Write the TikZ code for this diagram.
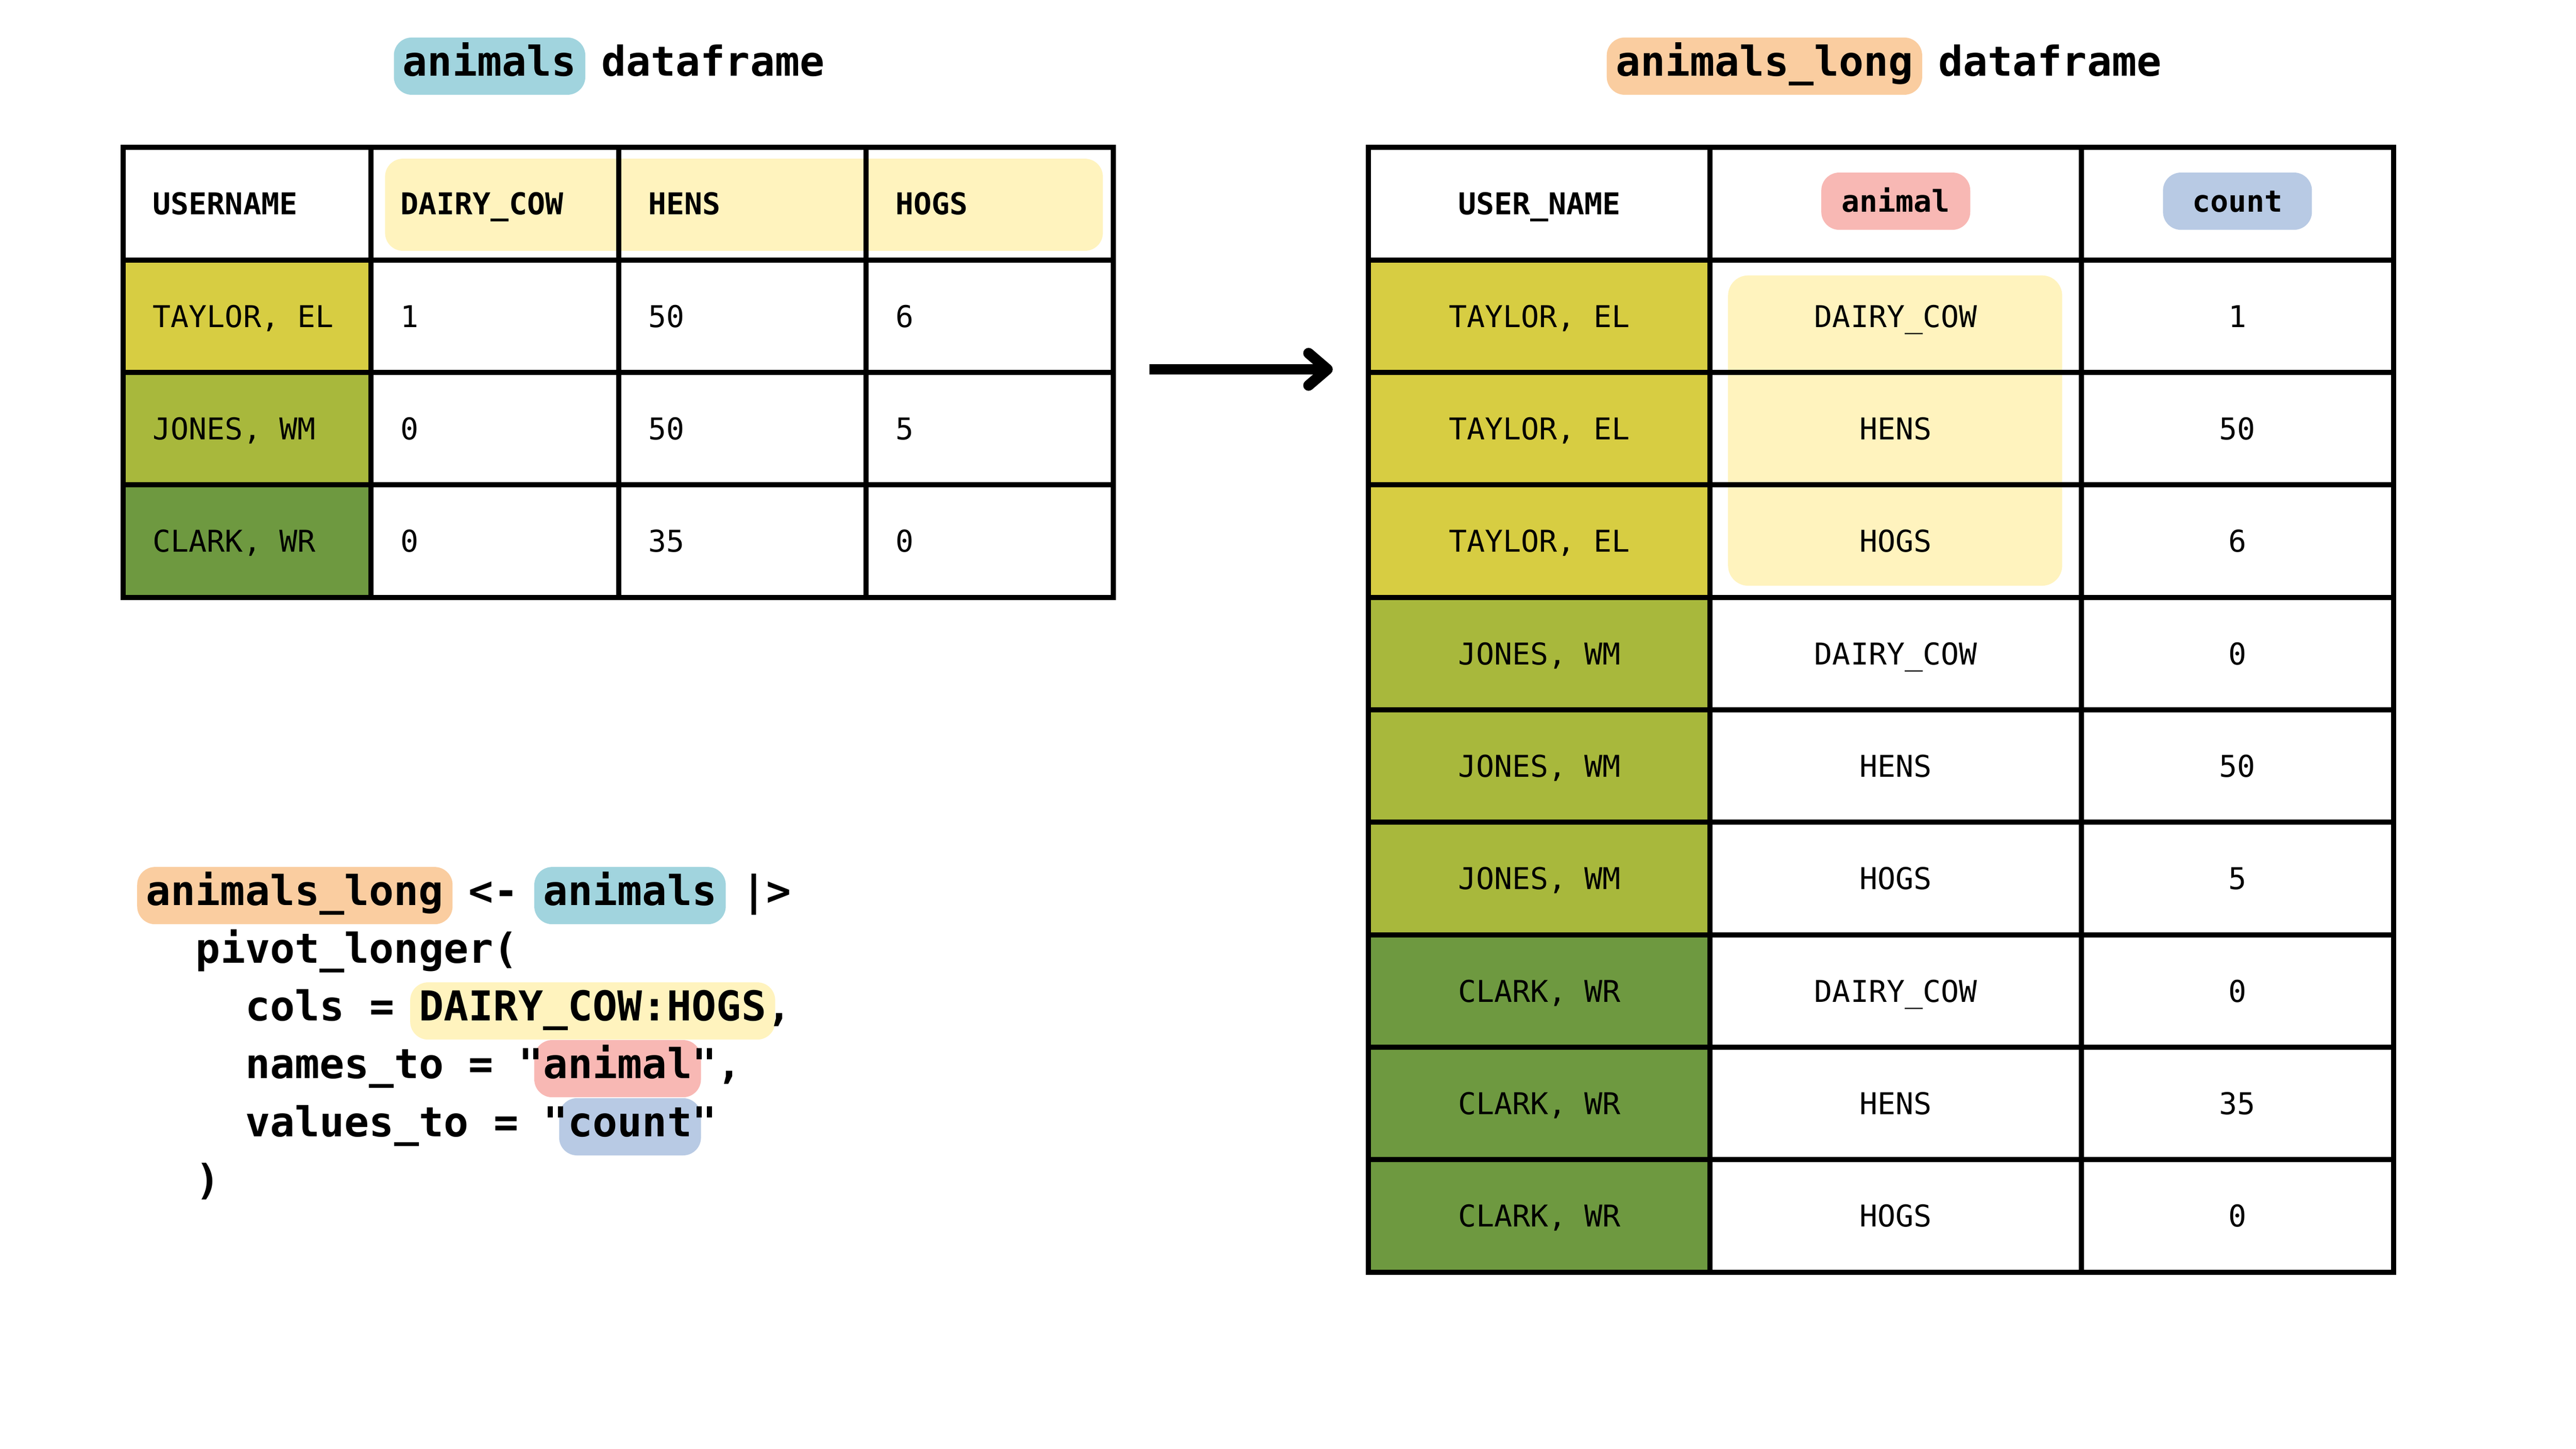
\documentclass[tikz,border=0pt]{standalone}
\usepackage{fontspec}
\setmonofont{DejaVu Sans Mono}
\usepackage{xcolor}
\usepackage{tikz}
\usetikzlibrary{arrows.meta}

\definecolor{hlblue}{HTML}{A1D4DE}
\definecolor{hlorange}{HTML}{FACDA0}
\definecolor{hlyellow}{HTML}{FFF3BE}
\definecolor{hlpink}{HTML}{F8B8B4}
\definecolor{hlgrey}{HTML}{B8CAE4}
\definecolor{taylor}{HTML}{D7CD42}
\definecolor{jones}{HTML}{A8B83C}
\definecolor{clark}{HTML}{6E9940}

\newcommand{\tabfont}{\ttfamily\fontsize{19.1pt}{23pt}\selectfont}
\newcommand{\codefont}{\ttfamily\bfseries\fontsize{26.2pt}{32pt}\selectfont}

\tikzset{
    grid line/.style={line width=0.115cm},
    cell text/.style={font=\tabfont, inner sep=0pt, text height=0.49cm, text depth=0pt},
    head text/.style={cell text, font=\tabfont\bfseries},
    head pill/.style={head text, fill=#1, rounded corners=0.4cm, minimum width=3.33cm, minimum height=1.28cm},
    code text/.style={font=\codefont, anchor=base west, inner xsep=0.2cm, inner ysep=0pt, text height=0.86cm, text depth=0.42cm},
    code pill/.style={code text, fill=#1, rounded corners=0.4cm},
    pivot arrow/.style={line width=0.24cm, -{Straight Barb[length=0.42cm,width=0.72cm,line cap=round,line join=round]}}
}

\begin{document}
\begin{tikzpicture}
                    \useasboundingbox (0,0) rectangle (57.6,32.4);
                    \fill[white] (0,0) rectangle (57.6,32.4);

                    \node[code pill=hlblue] (animalstitle) at (8.80,30.70) {animals};
                    \node[code text] (lefttitle) at (13.24,30.70) {dataframe};
                    \node[code pill=hlorange] (longtitle) at (35.92,30.70) {animals\_long};
                    \node[code text] (righttitle) at (43.135,30.70) {dataframe};

                    \fill[taylor] (2.75,26.585) rectangle (8.29,24.07);
                    \fill[jones] (2.75,24.07) rectangle (8.29,21.555);
                    \fill[clark] (2.75,21.555) rectangle (8.29,19.04);
                    \fill[hlyellow,rounded corners=0.4cm] (8.61,28.85) rectangle (24.66,26.79);

                    \draw[grid line] (2.75,29.10) rectangle (24.90,19.04);
                    \draw[grid line] (8.29,29.10) -- (8.29,19.04);
                    \draw[grid line] (13.83,29.10) -- (13.83,19.04);
                    \draw[grid line] (19.36,29.10) -- (19.36,19.04);
                    \draw[grid line] (2.75,26.585) -- (24.90,26.585);
                    \draw[grid line] (2.75,24.07) -- (24.90,24.07);
                    \draw[grid line] (2.75,21.555) -- (24.90,21.555);

                    \node[head text,anchor=west] (lusername) at (3.41,27.8425) {USERNAME};
                    \node[head text,anchor=west] (ldairy) at (8.95,27.8425) {DAIRY\_COW};
                    \node[head text,anchor=west] (lhens) at (14.49,27.8425) {HENS};
                    \node[head text,anchor=west] (lhogs) at (20.02,27.8425) {HOGS};

                    \node[cell text,anchor=west] (lname1) at (3.41,25.3275) {TAYLOR, EL};
                    \node[cell text,anchor=west] (ldairy1) at (8.95,25.3275) {1};
                    \node[cell text,anchor=west] (lhens1) at (14.49,25.3275) {50};
                    \node[cell text,anchor=west] (lhogs1) at (20.02,25.3275) {6};
                    \node[cell text,anchor=west] (lname2) at (3.41,22.8125) {JONES, WM};
                    \node[cell text,anchor=west] (ldairy2) at (8.95,22.8125) {0};
                    \node[cell text,anchor=west] (lhens2) at (14.49,22.8125) {50};
                    \node[cell text,anchor=west] (lhogs2) at (20.02,22.8125) {5};
                    \node[cell text,anchor=west] (lname3) at (3.41,20.2975) {CLARK, WR};
                    \node[cell text,anchor=west] (ldairy3) at (8.95,20.2975) {0};
                    \node[cell text,anchor=west] (lhens3) at (14.49,20.2975) {35};
                    \node[cell text,anchor=west] (lhogs3) at (20.02,20.2975) {0};

                    \coordinate (arrowtail) at (25.70,24.14);
                    \coordinate (arrowhead) at (29.80,24.14);
                    \draw[pivot arrow] (arrowtail) -- (arrowhead);

                    \fill[taylor] (30.60,26.585) rectangle (38.24,19.04);
                    \fill[jones] (30.60,19.04) rectangle (38.24,11.495);
                    \fill[clark] (30.60,11.495) rectangle (38.24,3.95);
                    \fill[hlyellow,rounded corners=0.45cm] (38.64,26.24) rectangle (46.11,19.30);

                    \draw[grid line] (30.60,29.10) rectangle (53.52,3.95);
                    \draw[grid line] (38.24,29.10) -- (38.24,3.95);
                    \draw[grid line] (46.54,29.10) -- (46.54,3.95);
                    \draw[grid line] (30.60,26.585) -- (53.52,26.585);
                    \draw[grid line] (30.60,24.07) -- (53.52,24.07);
                    \draw[grid line] (30.60,21.555) -- (53.52,21.555);
                    \draw[grid line] (30.60,19.04) -- (53.52,19.04);
                    \draw[grid line] (30.60,16.525) -- (53.52,16.525);
                    \draw[grid line] (30.60,14.01) -- (53.52,14.01);
                    \draw[grid line] (30.60,11.495) -- (53.52,11.495);
                    \draw[grid line] (30.60,8.98) -- (53.52,8.98);
                    \draw[grid line] (30.60,6.465) -- (53.52,6.465);

                    \node[head text] (rusername) at (34.42,27.8425) {USER\_NAME};
                    \node[head pill=hlpink] (ranimal) at (42.39,27.90) {animal};
                    \node[head pill=hlgrey] (rcount) at (50.03,27.90) {count};

                    \node[cell text] (rname1) at (34.42,25.3275) {TAYLOR, EL};
                    \node[cell text] (ranimal1) at (42.39,25.3275) {DAIRY\_COW};
                    \node[cell text] (rcount1) at (50.03,25.3275) {1};
                    \node[cell text] (rname2) at (34.42,22.8125) {TAYLOR, EL};
                    \node[cell text] (ranimal2) at (42.39,22.8125) {HENS};
                    \node[cell text] (rcount2) at (50.03,22.8125) {50};
                    \node[cell text] (rname3) at (34.42,20.2975) {TAYLOR, EL};
                    \node[cell text] (ranimal3) at (42.39,20.2975) {HOGS};
                    \node[cell text] (rcount3) at (50.03,20.2975) {6};
                    \node[cell text] (rname4) at (34.42,17.7825) {JONES, WM};
                    \node[cell text] (ranimal4) at (42.39,17.7825) {DAIRY\_COW};
                    \node[cell text] (rcount4) at (50.03,17.7825) {0};
                    \node[cell text] (rname5) at (34.42,15.2675) {JONES, WM};
                    \node[cell text] (ranimal5) at (42.39,15.2675) {HENS};
                    \node[cell text] (rcount5) at (50.03,15.2675) {50};
                    \node[cell text] (rname6) at (34.42,12.7525) {JONES, WM};
                    \node[cell text] (ranimal6) at (42.39,12.7525) {HOGS};
                    \node[cell text] (rcount6) at (50.03,12.7525) {5};
                    \node[cell text] (rname7) at (34.42,10.2375) {CLARK, WR};
                    \node[cell text] (ranimal7) at (42.39,10.2375) {DAIRY\_COW};
                    \node[cell text] (rcount7) at (50.03,10.2375) {0};
                    \node[cell text] (rname8) at (34.42,7.7225) {CLARK, WR};
                    \node[cell text] (ranimal8) at (42.39,7.7225) {HENS};
                    \node[cell text] (rcount8) at (50.03,7.7225) {35};
                    \node[cell text] (rname9) at (34.42,5.2075) {CLARK, WR};
                    \node[cell text] (ranimal9) at (42.39,5.2075) {HOGS};
                    \node[cell text] (rcount9) at (50.03,5.2075) {0};

                    \node[code pill=hlorange] (clong) at (3.06,12.15) {animals\_long};
                    \node[code pill=hlblue] (canimals) at (11.94,12.15) {animals};
                    \node[code text] (cassign) at (10.275,12.15) {<-};
                    \node[code text] (cpipe) at (16.38,12.15) {|>};
                    \node[code text] (cpivot) at (4.17,10.86) {pivot\_longer(};
                    \node[code pill=hlyellow] (ccolsval) at (9.165,9.57) {DAIRY\_COW:HOGS};
                    \node[code text] (ccols) at (5.28,9.57) {cols};
                    \node[code text] (ccolseq) at (8.055,9.57) {=};
                    \node[code text] (ccolscomma) at (16.935,9.57) {,};
                    \node[code pill=hlpink] (cnamesval) at (11.94,8.28) {animal};
                    \node[code text] (cnames) at (5.28,8.28) {names\_to};
                    \node[code text] (cnameseq) at (10.275,8.28) {=};
                    \node[code text] (cnamesopen) at (11.385,8.28) {"};
                    \node[code text] (cnamesclose) at (15.27,8.28) {",};
                    \node[code pill=hlgrey] (cvaluesval) at (12.495,6.98) {count};
                    \node[code text] (cvalues) at (5.28,6.98) {values\_to};
                    \node[code text] (cvalueseq) at (10.83,6.98) {=};
                    \node[code text] (cvaluesopen) at (11.94,6.98) {"};
                    \node[code text] (cvaluesclose) at (15.27,6.98) {"};
                    \node[code text] (cclose) at (4.17,5.69) {)};
                \end{tikzpicture}
\end{document}
